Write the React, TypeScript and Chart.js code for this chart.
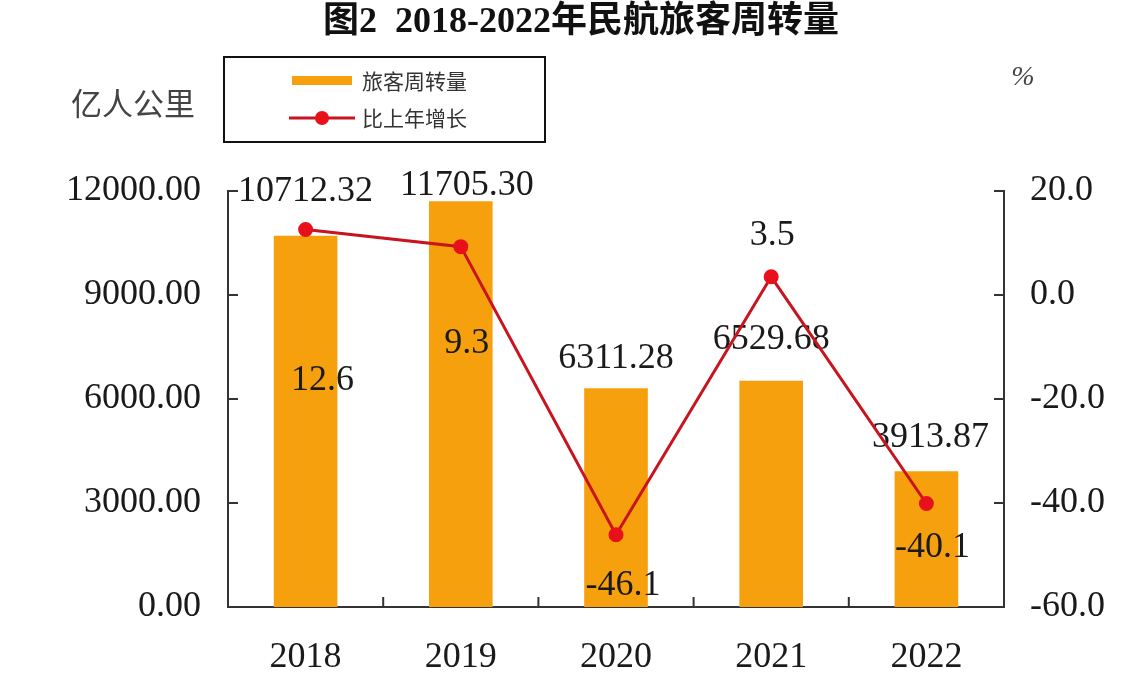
import React, { useEffect, useRef } from "react";
import { Chart, registerables } from "chart.js";

Chart.register(...registerables);

// ---- data ----
const chartTitle = "图2  2018-2022年民航旅客周转量";
const years = ["2018", "2019", "2020", "2021", "2022"];
const turnover = [10712.32, 11705.3, 6311.28, 6529.68, 3913.87];
const growth = [12.6, 9.3, -46.1, 3.5, -40.1];
const seriesNames = ["旅客周转量", "比上年增长"];
const leftUnit = "亿人公里";
const rightUnit = "%";
const leftRange = [0, 12000, 3000];
const rightRange = [-60, 20, 20];

// ---- label nudges (px, relative to the mark) ----
const barLabelDx = [0, 6, 0, 0, 4];
const barLabelDy = [-44, -16, -30, -41, -34];
const lineLabelDx = [17, 6, 7, 1, 6];
const lineLabelDy = [151, 97, 51, -41, 44];

const ORANGE = "#F7A00E";
const LINE_RED = "#C8141E";
const DOT_RED = "#E8101A";
const TEXT = "#1a1a1a";
const SERIF = "'Liberation Serif', 'Noto Sans CJK SC', serif";
const CJK = "'Noto Sans CJK SC', sans-serif";
const NUM_SIZE = 36;

const overlay = {
  id: "overlay",
  beforeDatasetsDraw(chart: any) {
    const ctx = chart.ctx;
    const meta = chart.getDatasetMeta(0);
    ctx.save();
    ctx.fillStyle = TEXT;
    ctx.font = `${NUM_SIZE}px ${SERIF}`;
    ctx.textAlign = "center";
    ctx.textBaseline = "middle";
    meta.data.forEach((el: any, i: number) => {
      ctx.fillText(turnover[i].toFixed(2), el.x + barLabelDx[i], el.y + barLabelDy[i]);
    });
    ctx.restore();
  },
  afterDatasetsDraw(chart: any) {
    const ctx = chart.ctx;
    const meta = chart.getDatasetMeta(1);
    ctx.save();
    ctx.fillStyle = TEXT;
    ctx.font = `${NUM_SIZE}px ${SERIF}`;
    ctx.textAlign = "center";
    ctx.textBaseline = "middle";
    meta.data.forEach((el: any, i: number) => {
      ctx.fillText(growth[i].toFixed(1), el.x + lineLabelDx[i], el.y + lineLabelDy[i]);
    });
    ctx.restore();
  },
  afterDraw(chart: any) {
    const ctx = chart.ctx;
    const area = chart.chartArea;
    const { x, y, y1 } = chart.scales;
    ctx.save();
    // title
    ctx.fillStyle = "#111";
    ctx.font = `bold 36px ${SERIF}`;
    ctx.textAlign = "center";
    ctx.textBaseline = "middle";
    ctx.fillText(chartTitle, 581, 23);
    // unit titles
    ctx.fillStyle = "#444";
    ctx.font = `31px ${CJK}`;
    ctx.textAlign = "left";
    ctx.fillText(leftUnit, 71, 103);
    ctx.font = `italic 28px ${SERIF}`;
    ctx.textAlign = "center";
    ctx.fillText(rightUnit, 1023, 78);

    // inward ticks
    ctx.strokeStyle = "#333";
    ctx.lineWidth = 2;
    ctx.beginPath();
    y.ticks.forEach((t: any) => {
      const py = y.getPixelForValue(t.value);
      ctx.moveTo(area.left, py);
      ctx.lineTo(area.left + 10, py);
    });
    y1.ticks.forEach((t: any) => {
      const py = y1.getPixelForValue(t.value);
      ctx.moveTo(area.right - 10, py);
      ctx.lineTo(area.right, py);
    });
    for (let i = 0; i < years.length - 1; i++) {
      const px = (x.getPixelForValue(i) + x.getPixelForValue(i + 1)) / 2;
      ctx.moveTo(px, area.bottom);
      ctx.lineTo(px, area.bottom - 10);
    }
    ctx.stroke();

    // legend box
    ctx.strokeStyle = "#111";
    ctx.lineWidth = 2;
    ctx.strokeRect(224, 57, 321, 85);
    ctx.fillStyle = ORANGE;
    ctx.fillRect(292, 76, 60, 9);
    ctx.strokeStyle = LINE_RED;
    ctx.lineWidth = 3;
    ctx.beginPath();
    ctx.moveTo(289, 118);
    ctx.lineTo(355, 118);
    ctx.stroke();
    ctx.fillStyle = DOT_RED;
    ctx.beginPath();
    ctx.arc(322, 118, 7, 0, Math.PI * 2);
    ctx.fill();
    ctx.fillStyle = "#333";
    ctx.font = `21px ${CJK}`;
    ctx.textAlign = "left";
    ctx.textBaseline = "middle";
    ctx.fillText(seriesNames[0], 362, 81);
    ctx.fillText(seriesNames[1], 362, 118);
    ctx.restore();
  },
};

export default function App() {
  const ref = useRef<HTMLCanvasElement | null>(null);
  useEffect(() => {
    if (!ref.current) return;
    const chart = new Chart(ref.current, {
      type: "bar",
      data: {
        labels: years,
        datasets: [
          {
            type: "bar",
            label: seriesNames[0],
            data: turnover,
            backgroundColor: ORANGE,
            yAxisID: "y",
            barPercentage: 0.41,
            categoryPercentage: 1,
            order: 2,
          },
          {
            type: "line",
            label: seriesNames[1],
            data: growth,
            borderColor: LINE_RED,
            borderWidth: 3,
            pointBackgroundColor: DOT_RED,
            pointBorderColor: DOT_RED,
            pointRadius: 6,
            yAxisID: "y1",
            order: 1,
          } as any,
        ],
      },
      options: {
        responsive: false,
        animation: false,
        layout: { padding: { top: 191, left: 0, right: 0, bottom: 0 } },
        plugins: { legend: { display: false }, tooltip: { enabled: false }, title: { display: false } },
        scales: {
          x: {
            grid: { display: false, drawTicks: false },
            border: { display: true, color: "#333", width: 2 },
            ticks: { color: TEXT, font: { size: NUM_SIZE, family: SERIF }, padding: 29 },
            afterFit(s: any) { s.height = 93; },
          },
          y: {
            position: "left",
            min: leftRange[0],
            max: leftRange[1],
            grid: { display: false, drawTicks: false },
            border: { display: true, color: "#333", width: 2 },
            ticks: {
              stepSize: leftRange[2],
              color: TEXT,
              font: { size: NUM_SIZE, family: SERIF },
              padding: 27,
              callback: (v: any) => Number(v).toFixed(2),
            },
            afterFit(s: any) { s.width = 228; },
          },
          y1: {
            position: "right",
            min: rightRange[0],
            max: rightRange[1],
            grid: { display: false, drawTicks: false },
            border: { display: true, color: "#333", width: 2 },
            ticks: {
              stepSize: rightRange[2],
              color: TEXT,
              font: { size: NUM_SIZE, family: SERIF },
              padding: 26,
              callback: (v: any) => Number(v).toFixed(1),
            },
            afterFit(s: any) { s.width = 131; },
          },
        },
      },
      plugins: [overlay],
    });
    return () => chart.destroy();
  }, []);
  return (
    <div style={{ position: "fixed", left: 0, top: 0, width: 1135, height: 700, background: "#fff" }}>
      <canvas ref={ref} width={1135} height={700} style={{ display: "block" }} />
    </div>
  );
}
